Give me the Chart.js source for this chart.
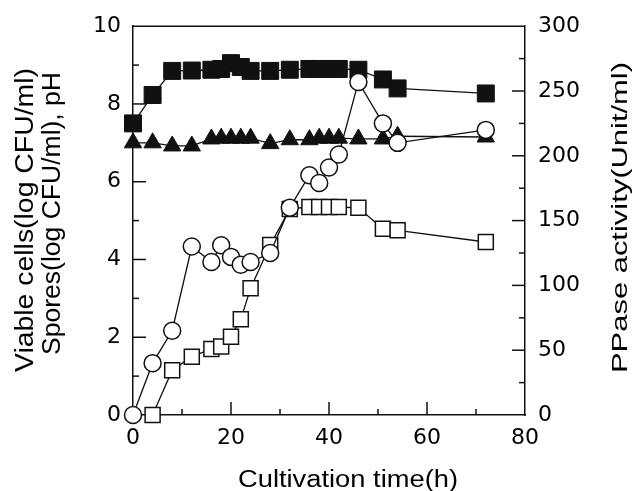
<!DOCTYPE html>
<html><head><meta charset="utf-8">
<script src="https://cdn.jsdelivr.net/npm/chart.js@4/dist/chart.umd.min.js"></script>
<style>html,body{margin:0;padding:0;background:#fff}#wrap{width:634px;height:491px}</style>
</head><body><div id="wrap"><canvas id="c" width="634" height="491"></canvas></div>
<script>
// ---- data ----
const timeH       = [0, 4, 8, 12, 16, 18, 20, 22, 24, 28, 32, 36, 38, 40, 42, 46, 51, 54, 72];
const viableCells = [7.50, 8.23, 8.85, 8.86, 8.88, 8.90, 9.05, 8.95, 8.85, 8.85, 8.88, 8.90, 8.90, 8.90, 8.90, 8.88, 8.63, 8.40, 8.27];
const pH          = [7.00, 7.00, 6.92, 6.92, 7.10, 7.12, 7.12, 7.12, 7.12, 6.98, 7.08, 7.08, 7.12, 7.12, 7.12, 7.10, 7.10, 7.17, 7.15];
const spores      = [null, 0.00, 1.15, 1.50, 1.70, 1.76, 2.01, 2.46, 3.26, 4.37, 5.30, 5.35, 5.35, 5.35, 5.35, 5.33, 4.79, 4.75, 4.45];
const ppase       = [0, 40, 65, 130, 118, 131, 122, 116, 118, 125, 160, 185, 179, 191, 201, 257, 225, 210, 220];
const xTitle = 'Cultivation time(h)';
const yTitleLines = ['Viable cells(log CFU/ml)', 'Spores(log CFU/ml), pH'];
const y2Title = 'PPase activity(Unit/ml)';

const blk = '#111';
function pts(ys){ return timeH.map((t,i)=>({x:t,y:ys[i]})).filter(p=>p.y!==null); }

const decor = {
  id:'decor',
  beforeDatasetsDraw(chart){
    const {ctx, chartArea:a, scales} = chart;
    ctx.save(); ctx.strokeStyle = blk; ctx.lineWidth = 1.5;
    const seg=(x1,y1,x2,y2)=>{ctx.beginPath();ctx.moveTo(x1,y1);ctx.lineTo(x2,y2);ctx.stroke();};
    seg(a.left, a.top, a.right, a.top);
    for (let v=10; v<80; v+=10){ const p=scales.x.getPixelForValue(v); seg(p,a.bottom,p,a.bottom-(v%20===0?13:6)); }
    for (let v=1; v<10; v+=1){ const p=scales.y.getPixelForValue(v); seg(a.left,p,a.left+(v%2===0?13:6),p); }
    for (let v=25; v<300; v+=25){ const p=scales.y2.getPixelForValue(v); seg(a.right,p,a.right-(v%50===0?13:6),p); }
    ctx.restore();
  },
  afterDraw(chart){
    const ctx = chart.ctx;
    function fit(text, cx, cy, rot, size, width){
      ctx.save(); ctx.translate(cx, cy); ctx.rotate(rot);
      ctx.font = size + 'px "Liberation Sans", Arial, sans-serif';
      const w = ctx.measureText(text).width;
      ctx.scale(width / w, 1);
      ctx.textAlign = 'center'; ctx.textBaseline = 'alphabetic'; ctx.fillStyle = '#000';
      ctx.fillText(text, 0, 0); ctx.restore();
    }
    fit(xTitle, 348, 486.5, 0, 23, 220);
    fit(yTitleLines[0], 33, 220, -Math.PI/2, 25, 304);
    fit(yTitleLines[1], 60, 213.5, -Math.PI/2, 25, 283);
    fit(y2Title, 627, 217.5, -Math.PI/2, 22, 311);
  }
};

const tickFont = {family:'DejaVu Sans', size:22};
new Chart(document.getElementById('c'), {
  type:'line',
  data:{ datasets:[
    {label:'PPase activity', data:pts(ppase), yAxisID:'y2', pointStyle:'circle', pointRadius:8.5,
     borderColor:blk, borderWidth:1.3, pointBorderColor:blk, pointBackgroundColor:'#fff', pointBorderWidth:1.5, order:0, clip:false},
    {label:'Spores', data:pts(spores), yAxisID:'y', pointStyle:'rect', pointRadius:10.6,
     borderColor:blk, borderWidth:1.3, pointBorderColor:blk, pointBackgroundColor:'#fff', pointBorderWidth:1.5, order:1, clip:false},
    {label:'pH', data:pts(pH), yAxisID:'y', pointStyle:'triangle', pointRadius:10,
     borderColor:blk, borderWidth:1.3, pointBorderColor:blk, pointBackgroundColor:blk, pointBorderWidth:1, order:2, clip:false},
    {label:'Viable cells', data:pts(viableCells), yAxisID:'y', pointStyle:'rect', pointRadius:12,
     borderColor:blk, borderWidth:1.3, pointBorderColor:blk, pointBackgroundColor:blk, pointBorderWidth:1, order:3, clip:false}
  ]},
  options:{
    responsive:false, animation:false, devicePixelRatio:1,
    layout:{padding:{top:22,left:0,right:0,bottom:0}, autoPadding:false},
    plugins:{legend:{display:false}, tooltip:{enabled:false}},
    elements:{line:{tension:0}},
    scales:{
      x:{type:'linear', position:'bottom', min:0, max:80,
         ticks:{stepSize:20, padding:10, color:'#000', font:tickFont, maxRotation:0, autoSkip:false},
         grid:{display:true, drawOnChartArea:false, drawTicks:false, color:blk},
         border:{display:true, color:blk, width:1.5},
         afterFit(s){ s.height = 76; }},
      y:{type:'linear', position:'left', min:0, max:10,
         ticks:{stepSize:2, padding:12, color:'#000', font:tickFont},
         grid:{display:true, drawOnChartArea:false, drawTicks:false, color:blk},
         border:{display:true, color:blk, width:1.5},
         afterFit(s){ s.width = 133; }},
      y2:{type:'linear', position:'right', min:0, max:300,
         ticks:{stepSize:50, padding:13, color:'#000', font:tickFont},
         grid:{display:true, drawOnChartArea:false, drawTicks:false, color:blk},
         border:{display:true, color:blk, width:1.5},
         afterFit(s){ s.width = 109; }}
    }
  },
  plugins:[decor]
});
</script></body></html>
